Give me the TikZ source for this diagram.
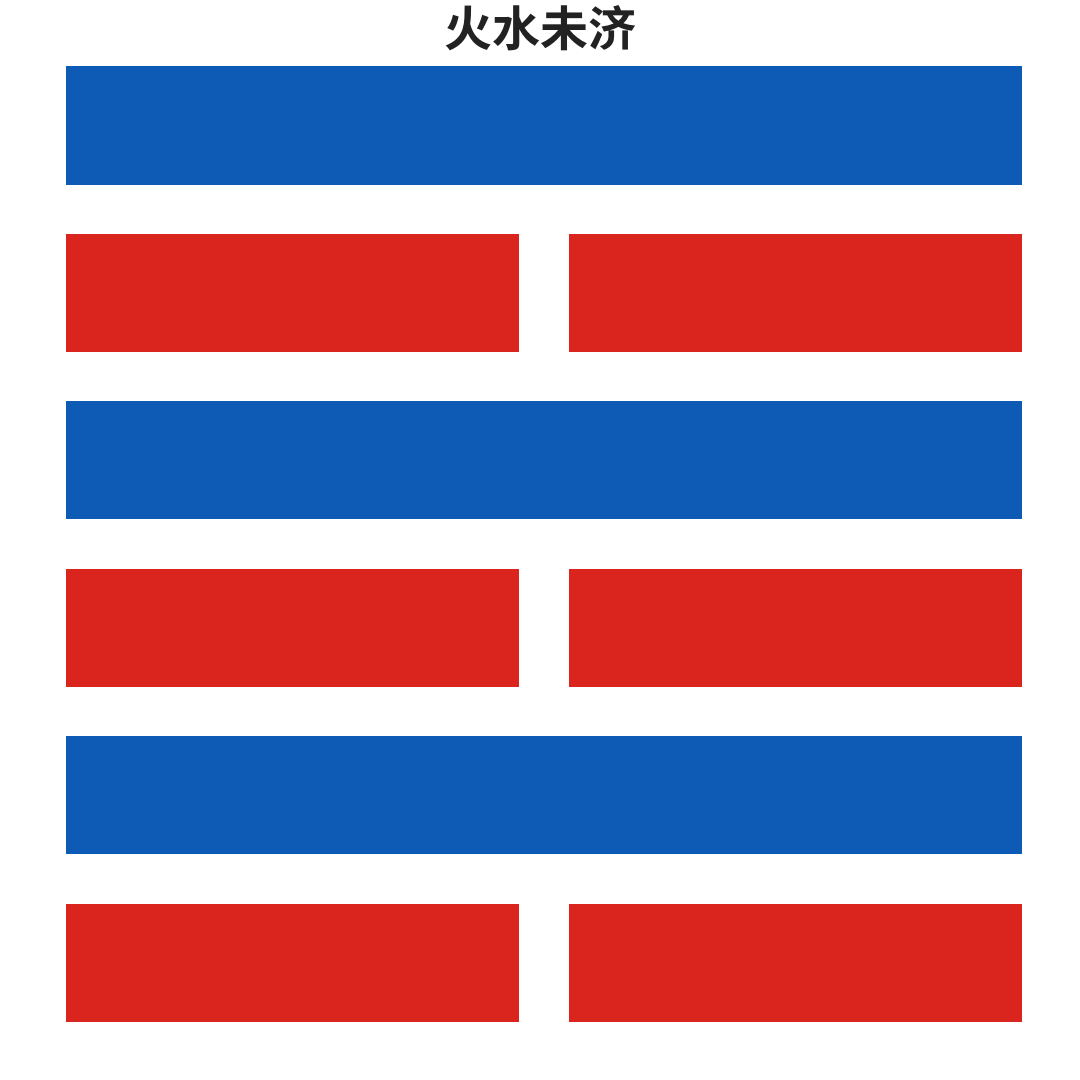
\documentclass[tikz,border=0pt]{standalone}
\usepackage{fontspec}
\newfontfamily\cjk{Noto Sans CJK SC}[BoldFont={Noto Sans CJK SC Bold}]
\definecolor{yangblue}{HTML}{0E5BB5}
\definecolor{yinred}{HTML}{D9251D}
\definecolor{titlegray}{HTML}{222222}
\begin{document}
\begin{tikzpicture}[x=1pt,y=-1pt,
  yang/.style={fill=yangblue,draw=none},
  yin/.style={fill=yinred,draw=none}]
\useasboundingbox[fill=white] (0,0) rectangle (1080,1080);
\node[text=titlegray,font=\cjk\bfseries\fontsize{48}{56}\selectfont] (title) at (540,28) {火水未济};
\path[yang] (66,66) rectangle (1022,185) node[midway] (l6) {};
\path[yin] (66,234) rectangle (519,352) node[midway] (l5a) {};
\path[yin] (569,234) rectangle (1022,352) node[midway] (l5b) {};
\path[yang] (66,401) rectangle (1022,519) node[midway] (l4) {};
\path[yin] (66,569) rectangle (519,687) node[midway] (l3a) {};
\path[yin] (569,569) rectangle (1022,687) node[midway] (l3b) {};
\path[yang] (66,736) rectangle (1022,854) node[midway] (l2) {};
\path[yin] (66,904) rectangle (519,1022) node[midway] (l1a) {};
\path[yin] (569,904) rectangle (1022,1022) node[midway] (l1b) {};
\end{tikzpicture}
\end{document}
